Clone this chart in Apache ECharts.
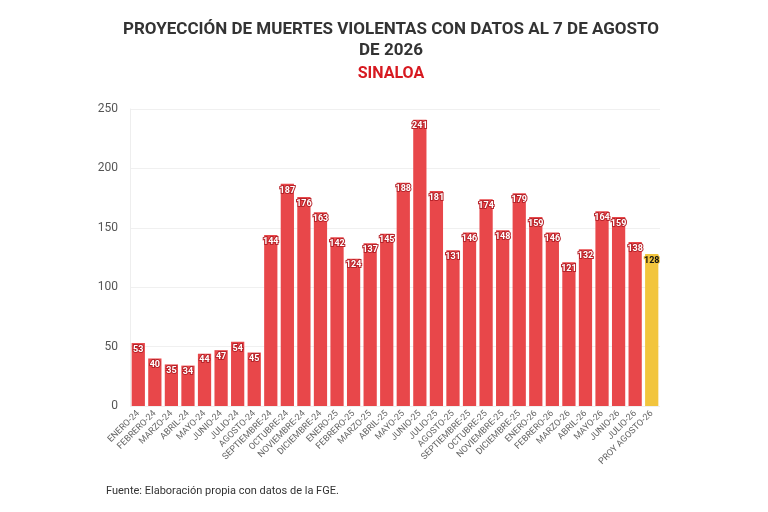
<!DOCTYPE html>
<html>
<head>
<meta charset="utf-8">
<script src="https://cdn.jsdelivr.net/npm/echarts@6/dist/echarts.min.js"></script>
<style>
  html, body { margin: 0; padding: 0; background: #fff; }
  #chart { width: 768px; height: 512px; }
</style>
</head>
<body>
<div id="chart"></div>
<script>
const months = [
  'ENERO-24', 'FEBRERO-24', 'MARZO-24', 'ABRIL-24', 'MAYO-24', 'JUNIO-24', 'JULIO-24', 'AGOSTO-24',
  'SEPTIEMBRE-24', 'OCTUBRE-24', 'NOVIEMBRE-24', 'DICIEMBRE-24',
  'ENERO-25', 'FEBRERO-25', 'MARZO-25', 'ABRIL-25', 'MAYO-25', 'JUNIO-25', 'JULIO-25', 'AGOSTO-25',
  'SEPTIEMBRE-25', 'OCTUBRE-25', 'NOVIEMBRE-25', 'DICIEMBRE-25',
  'ENERO-26', 'FEBRERO-26', 'MARZO-26', 'ABRIL-26', 'MAYO-26', 'JUNIO-26', 'JULIO-26', 'PROY AGOSTO-26'
];
const muertes = [
  53, 40, 35, 34, 44, 47, 54, 45,
  144, 187, 176, 163,
  142, 124, 137, 145, 188, 241, 181, 131,
  146, 174, 148, 179,
  159, 146, 121, 132, 164, 159, 138, 128
];
const proyeccionIndex = months.length - 1;

const chart = echarts.init(document.getElementById('chart'));

chart.setOption({
  animation: false,
  textStyle: { fontFamily: 'Roboto, sans-serif' },
  title: [
    {
      text: 'PROYECCIÓN DE MUERTES VIOLENTAS CON DATOS AL 7 DE AGOSTO\nDE 2026',
      left: 386,
      top: 14,
      textAlign: 'center',
      textStyle: { fontSize: 17, fontWeight: 'bold', color: '#333', lineHeight: 21 }
    },
    {
      text: 'SINALOA',
      left: 386,
      top: 61,
      textAlign: 'center',
      textStyle: { fontSize: 16, fontWeight: 'bold', color: '#d71920' }
    },
    {
      text: 'Fuente: Elaboración propia con datos de la FGE.',
      left: 101,
      top: 481,
      textStyle: { fontSize: 11, fontWeight: 'normal', color: '#333' }
    }
  ],
  grid: { left: 130, right: 108, top: 109, bottom: 106 },
  xAxis: {
    type: 'category',
    data: months,
    axisLine: { show: false },
    axisTick: { show: false },
    axisLabel: {
      rotate: 45,
      interval: 0,
      fontSize: 9,
      color: '#666',
      margin: 6
    }
  },
  yAxis: {
    type: 'value',
    min: 0,
    max: 250,
    interval: 50,
    axisLine: { show: true, lineStyle: { color: '#eeeeee' } },
    axisTick: { show: false },
    splitLine: { lineStyle: { color: '#f0f0f0' } },
    axisLabel: { fontSize: 12, color: '#555', margin: 12 }
  },
  series: [
    {
      type: 'bar',
      barCategoryGap: '20%',
      data: muertes.map((v, i) => i === proyeccionIndex
        ? {
            value: v,
            itemStyle: { color: '#f2c53d' },
            label: { color: '#111', textBorderColor: '#f2c53d' }
          }
        : v),
      itemStyle: { color: '#e8474a' },
      label: {
        show: true,
        position: 'insideTop',
        distance: 2,
        fontSize: 9,
        fontWeight: 'bold',
        color: '#fff',
        textBorderColor: '#b8232a',
        textBorderWidth: 2
      }
    }
  ]
});
</script>
</body>
</html>
